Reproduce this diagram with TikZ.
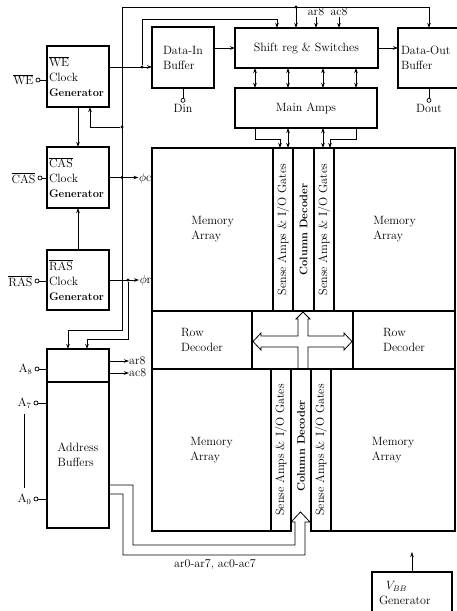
\documentclass[tikz,border=0pt]{standalone}
\usepackage{fontspec}
\usetikzlibrary{positioning,calc,arrows.meta}

\newcommand{\sigbar}[1]{$\overline{\mbox{#1}}$}
\newcommand{\wfont}{\fontsize{12}{15}\selectfont\addfontfeatures{LetterSpace=6}}
\newcommand{\gfont}{\fontsize{11}{15}\selectfont\bfseries\addfontfeatures{LetterSpace=0}}
\newcommand{\cdfont}{\fontsize{11}{15}\selectfont\bfseries}

\begin{document}
\begin{tikzpicture}[
    x=1pt, y=-1pt,
    font=\wfont,
    blk/.style={draw, line width=1.2pt, rectangle, inner xsep=2pt, inner ysep=0pt, outer sep=0pt, anchor=north west, align=left},
    gen/.style={blk, minimum width=62pt, minimum height=61pt, text width=58pt},
    strip/.style={blk, minimum width=20pt},
    txt/.style={inner sep=1pt, align=left},
    vtxt/.style={rotate=90, inner sep=0pt},
    pin/.style={draw, circle, inner sep=0pt, minimum size=4pt, line width=0.7pt},
    dot/.style={fill, circle, inner sep=0pt, minimum size=3.2pt},
    wire/.style={line width=0.8pt},
    sig/.style={wire, -{Stealth[length=5pt,width=3.5pt]}},
    bi/.style={wire, {Stealth[length=5pt,width=3.5pt]}-{Stealth[length=5pt,width=3.5pt]}}
]
    \useasboundingbox (0,0) rectangle (457,611);

    % Clock generators
    \node[gen] (wegen) at (47,46) {\sigbar{WE}\\Clock\\{\gfont Generator}};
    \node[gen] (casgen) at (47,147) {\sigbar{CAS}\\Clock\\{\gfont Generator}};
    \node[gen, minimum height=60pt] (rasgen) at (47,250) {\sigbar{RAS}\\Clock\\{\gfont Generator}};

    % Address buffers
    \node[blk, minimum width=62pt, minimum height=33pt] (addr8) at (47,349) {};
    \node[blk, minimum width=62pt, minimum height=146pt, below right=0pt of addr8.south west] (addrbuf) {Address\\Buffers};

    % Data path
    \node[blk, minimum width=62pt, minimum height=61pt] (datain) at (152,27) {Data-In\\Buffer};
    \node[blk, minimum width=143pt, minimum height=40pt] (shift) at (235,28) {Shift reg \& Switches};
    \node[blk, minimum width=62pt, minimum height=60pt, text width=56pt, inner xsep=3pt] (dataout) at (398,28) {Data-Out\\Buffer};
    \node[blk, minimum width=142pt, minimum height=40pt] (mainamps) at (235,88) {Main Amps};
    \node[blk, minimum width=80pt, minimum height=42pt, text width=66pt, inner xsep=7pt] (vbb) at (372,572) {\hspace*{7pt}$V_{BB}$\\Generator};

    % Memory block
    \node[blk, minimum width=121pt, minimum height=163pt] (memTL) at (152,148) {Memory\\Array};
    \node[strip, minimum height=163pt, right=0pt of memTL] (saTL) {};
    \node[strip, minimum width=21pt, minimum height=163pt, right=0pt of saTL] (cdT) {};
    \node[strip, minimum height=163pt, right=0pt of cdT] (saTR) {};
    \node[blk, minimum width=121pt, minimum height=163pt, right=0pt of saTR] (memTR) {Memory\\Array};

    \node[blk, minimum width=100pt, minimum height=58pt, below right=0pt of memTL.south west] (rowL) {Row\\Decoder};
    \node[blk, minimum width=101pt, minimum height=58pt, right=0pt of rowL] (xbar) {};
    \node[blk, minimum width=102pt, minimum height=58pt, right=0pt of xbar] (rowR) {Row\\Decoder};

    \node[blk, minimum width=119pt, minimum height=162pt, below right=0pt of rowL.south west] (memBL) {Memory\\Array};
    \node[strip, minimum height=162pt, right=0pt of memBL] (saBL) {};
    \node[strip, draw=none, minimum height=162pt, right=0pt of saBL] (cdB) {};
    \node[strip, minimum height=162pt, right=0pt of cdB] (saBR) {};
    \node[blk, minimum width=124pt, minimum height=162pt, right=0pt of saBR] (memBR) {Memory\\Array};

    \node[vtxt] (saTLtxt) at (saTL) {Sense Amps \& I/O Gates};
    \node[vtxt, font=\cdfont] (cdTtxt) at (cdT) {Column Decoder};
    \node[vtxt] (saTRtxt) at (saTR) {Sense Amps \& I/O Gates};
    \node[vtxt] (saBLtxt) at (saBL) {Sense Amps \& I/O Gates};
    \node[vtxt, font=\cdfont] (cdBtxt) at ($(cdB)+(0,-4)$) {Column Decoder};
    \node[vtxt] (saBRtxt) at (saBR) {Sense Amps \& I/O Gates};

    % Cross arrow to row/column decoders
    \draw[wire] (298,369) -- (298,347) -- (261,347) -- (261,350) -- (253,341.5) -- (261,333) -- (261,336)
        -- (298,336) -- (298,319) -- (296,319) -- (303,312) -- (310,319) -- (308,319) -- (308,336)
        -- (344,336) -- (344,333) -- (352,341.5) -- (344,350) -- (344,347) -- (308,347) -- (308,369);

    % Outside pins
    \node[pin] (wepin) at (38,80) {};
    \node[txt, left=1pt of wepin] (welbl) {\sigbar{WE}};
    \node[pin] (caspin) at (40,178) {};
    \node[txt, left=1pt of caspin] (caslbl) {\sigbar{CAS}};
    \node[pin] (raspin) at (37,281) {};
    \node[txt, left=1pt of raspin] (raslbl) {\sigbar{RAS}};
    \node[pin] (a8pin) at (37,369) {};
    \node[txt, left=1pt of a8pin] (a8lbl) {A$_8$};
    \node[pin] (a7pin) at (36,403) {};
    \node[txt, left=1pt of a7pin] (a7lbl) {A$_7$};
    \node[pin] (a0pin) at (36,499) {};
    \node[txt, left=1pt of a0pin] (a0lbl) {A$_0$};
    \foreach \p/\b in {wepin/wegen, caspin/casgen, raspin/rasgen, a8pin/addr8, a7pin/addrbuf, a0pin/addrbuf}
        \draw[wire] (\p) -- (\p -| \b.west);
    \draw[wire] ([yshift=-5pt]a7lbl.south) -- ([yshift=5pt]a0lbl.north);

    \node[pin, below=10pt of datain.south] (dinpin) {};
    \node[txt, below=0pt of dinpin] (din) {Din};
    \draw[wire] (datain.south) -- (dinpin);
    \node[pin, below=10pt of dataout.south] (doutpin) {};
    \node[txt, below=0pt of doutpin] (dout) {Dout};
    \draw[wire] (dataout.south) -- (doutpin);

    % Clock lines
    \coordinate (ttop) at (122,7);
    \coordinate (tout) at (429,7);
    \coordinate (tsr) at (296,7);
    \coordinate (tbuf) at (68,330);
    \draw[sig] (ttop) -- (tout) -- (tout |- dataout.north);
    \draw[sig] (tsr) -- (tsr |- shift.north);
    \node[dot] (dsr) at (tsr) {};
    \draw[sig] (ttop) |- (tbuf) -- (tbuf |- addr8.north);

    \coordinate (fwe) at (90,127);
    \node[dot] (jwe) at (ttop |- fwe) {};
    \draw[sig] (jwe) -- (fwe) -- (fwe |- wegen.south);

    \coordinate (ksr) at (277,19);
    \node[dot] (jdi) at (142,67) {};
    \draw[sig] (wegen.east |- jdi) -- (jdi -| datain.west);
    \draw[sig] (jdi) |- (ksr) -- (ksr |- shift.north);

    \draw[sig] (wegen.south) -- (casgen.north);
    \draw[sig] (rasgen.north) -- (casgen.south);

    \node[txt, anchor=east, inner sep=0.5pt] (phic) at (152,178) {$\phi$c};
    \node[dot] (jcas) at (ttop |- casgen.east) {};
    \draw[sig] (casgen.east) -- (casgen.east -| phic.west);

    \node[txt, anchor=east, inner sep=0.5pt] (phir) at (152,280) {$\phi$r};
    \coordinate (rbuf) at (87,339);
    \node[dot] (jras) at (128,280) {};
    \draw[sig] (rasgen.east) -- (rasgen.east -| phir.west);
    \draw[sig] (jras) |- (rbuf) -- (rbuf |- addr8.north);

    % Address outputs
    \node[txt, anchor=west, inner sep=0pt] (ar8) at (129,361) {ar8};
    \node[txt, anchor=west, inner sep=0pt] (ac8) at (129,373) {ac8};
    \draw[sig] (addr8.east |- ar8) -- (ar8);
    \draw[sig] (addr8.east |- ac8) -- (ac8);

    \node[txt, inner sep=0.5pt] (ar8top) at (316,12) {ar8};
    \node[txt, inner sep=0.5pt] (ac8top) at (339,12) {ac8};
    \draw[sig] (ar8top) -- (ar8top |- shift.north);
    \draw[sig] (ac8top) -- (ac8top |- shift.north);

    \draw[wire] (addrbuf.east |- 0,485) -| (133,545) -| (295,522) -- (291,522) -- (300.5,512)
        -- (310,522) -- (305,522) -- (305,555) -- (123,555) |- (addrbuf.east |- 0,494);
    \node[txt] (buslbl) at (215,565) {ar0-ar7, ac0-ac7};

    % Data lines
    \draw[sig] (datain.east |- shift.west) -- (shift.west);
    \draw[sig] (shift.east) -- (shift.east -| dataout.west);
    \foreach \xx in {255,288,323,356}
        \draw[bi] (shift.south -| \xx,0) -- (mainamps.north -| \xx,0);

    \coordinate (mL) at (280,139);
    \coordinate (mR) at (330,139);
    \draw[sig] (mainamps.south -| 255,0) |- (mL) -- (mL |- saTL.north);
    \draw[bi] (mainamps.south -| 288,0) -- (saTL.north -| 288,0);
    \draw[bi] (mainamps.south -| 323,0) -- (saTR.north -| 323,0);
    \draw[sig] (mainamps.south -| 356,0) |- (mR) -- (mR |- saTR.north);

    \coordinate (vtip) at (412,552);
    \draw[sig] (vbb.north) -- (vbb.north |- vtip);
\end{tikzpicture}
\end{document}
